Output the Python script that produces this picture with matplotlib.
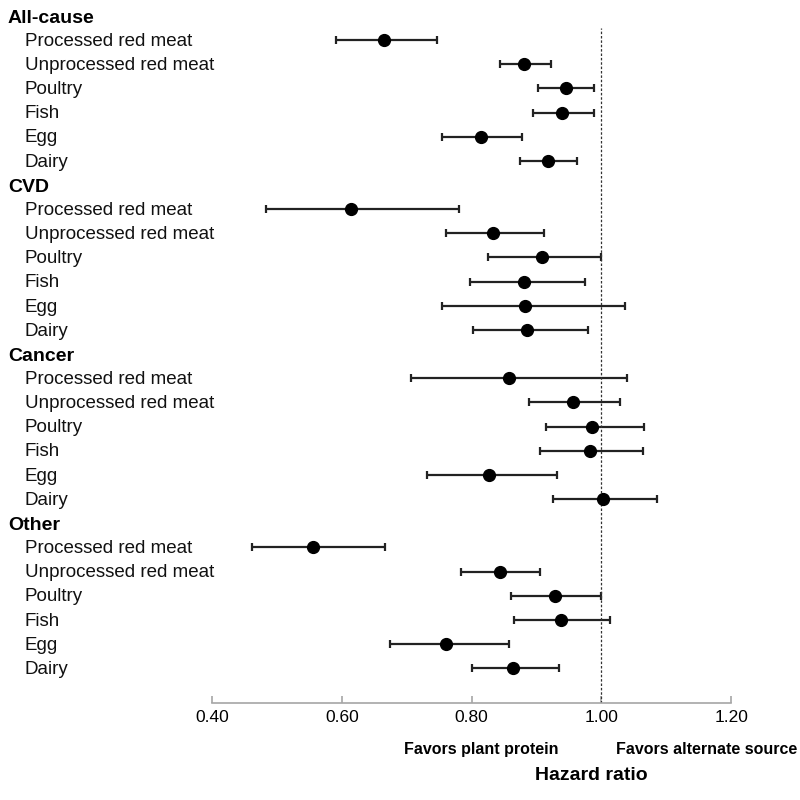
import matplotlib
matplotlib.use("Agg")
import matplotlib.pyplot as plt
import matplotlib.transforms as mtransforms

plt.rcParams['font.family'] = ['Liberation Sans', 'DejaVu Sans']

# outcome groups and protein sources
groups = ['All-cause', 'CVD', 'Cancer', 'Other']
sources = ['Processed red meat', 'Unprocessed red meat', 'Poultry', 'Fish', 'Egg', 'Dairy']

# hazard ratios with 95% CI, one list per group (same order as sources)
hr_all = [0.665, 0.881, 0.945, 0.940, 0.814, 0.917]
lo_all = [0.591, 0.843, 0.902, 0.895, 0.755, 0.874]
hi_all = [0.747, 0.922, 0.989, 0.988, 0.877, 0.963]

hr_cvd = [0.614, 0.833, 0.909, 0.880, 0.883, 0.886]
lo_cvd = [0.483, 0.761, 0.826, 0.797, 0.754, 0.802]
hi_cvd = [0.781, 0.912, 0.999, 0.974, 1.036, 0.979]

hr_cancer = [0.857, 0.957, 0.986, 0.982, 0.827, 1.002]
lo_cancer = [0.706, 0.889, 0.914, 0.905, 0.732, 0.926]
hi_cancer = [1.039, 1.028, 1.065, 1.064, 0.932, 1.085]

hr_other = [0.555, 0.843, 0.928, 0.937, 0.761, 0.864]
lo_other = [0.461, 0.784, 0.860, 0.866, 0.675, 0.801]
hi_other = [0.667, 0.905, 0.999, 1.014, 0.858, 0.934]

hr_groups = [hr_all, hr_cvd, hr_cancer, hr_other]
lo_groups = [lo_all, lo_cvd, lo_cancer, lo_other]
hi_groups = [hi_all, hi_cvd, hi_cancer, hi_other]

xticks = [0.40, 0.60, 0.80, 1.00, 1.20]

fig = plt.figure(figsize=(8, 8), dpi=100)
ax = fig.add_axes([0.265, 0.121, 0.649, 0.844])

# label column sits in figure coords for x, data coords for y
trans = mtransforms.blended_transform_factory(fig.transFigure, ax.transData)

row = 0
for g, name in enumerate(groups):
    ax.text(0.01, row + 0.1, name, transform=trans, fontsize=14, fontweight='bold',
            va='center', ha='left', clip_on=False)
    row += 1
    for s, src in enumerate(sources):
        hr = hr_groups[g][s]
        lo = lo_groups[g][s]
        hi = hi_groups[g][s]
        ax.errorbar(hr, row, xerr=[[hr - lo], [hi - hr]], fmt='o', color='black',
                    ecolor='#222222', elinewidth=1.6, capsize=3, capthick=1.6,
                    markersize=8.5)
        ax.text(0.031, row + 0.05, src, transform=trans, fontsize=13.5,
                va='center', ha='left', color='#111111', clip_on=False)
        row += 1

# reference line at HR = 1
ax.axvline(1.0, color='#333333', linestyle=(0, (2, 1.5)), linewidth=0.9)

ax.set_xlim(0.40, 1.20)
ax.set_ylim(row + 0.45, 0.5)
ax.set_yticks([])
ax.set_xticks(xticks)
ax.set_xticklabels(['%.2f' % t for t in xticks], fontsize=12.5)
for side in ['top', 'right', 'left']:
    ax.spines[side].set_visible(False)
ax.spines['bottom'].set_color('#a6a6a6')
ax.spines['bottom'].set_linewidth(1.2)
ax.tick_params(axis='x', direction='in', length=5, width=1.2, color='#a6a6a6', pad=5)

fig.text(0.602, 0.063, 'Favors plant protein', fontsize=11.5, fontweight='bold',
         ha='center', va='center')
fig.text(0.996, 0.063, 'Favors alternate source', fontsize=11.5, fontweight='bold',
         ha='right', va='center')
fig.text(0.739, 0.030, 'Hazard ratio', fontsize=14, fontweight='bold',
         ha='center', va='center')

plt.savefig('out.png', dpi=100)
